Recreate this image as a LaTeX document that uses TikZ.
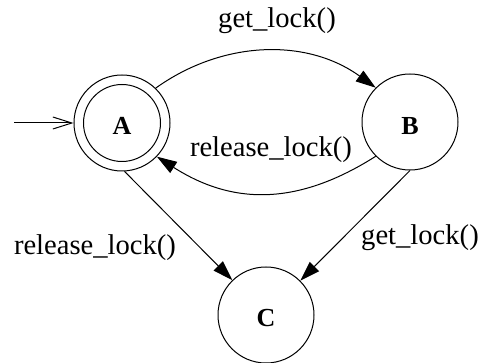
\documentclass[tikz,border=0pt]{standalone}
\usepackage{fontspec}
\setmainfont{Liberation Serif}
\usetikzlibrary{arrows.meta}
\begin{document}
\begin{tikzpicture}[x=1pt,y=-1pt,
  state/.style={circle,draw,line width=1pt,minimum size=96pt,inner sep=0pt},
  statename/.style={font=\fontsize{26}{26}\selectfont\bfseries,anchor=base,inner sep=0pt},
  edgelabel/.style={font=\fontsize{28.6}{28.6}\selectfont,anchor=base,inner sep=0pt},
  trans/.style={line width=1pt,-{Triangle[length=20pt,width=13pt]}},
  initarrow/.style={line width=1pt,-{Straight Barb[length=19pt,width=12pt,line width=1pt]}}]
  \useasboundingbox (0,0) rectangle (480,363);

  % states
  \node[state] (A) at (122,123) {};
  \draw[line width=1pt] (A.center) circle (38.5pt);
  \node[state] (B) at (410,122) {};
  \node[state] (C) at (266,315) {};
  \node[statename] (An) at (122,135) {A};
  \node[statename] (Bn) at (410,135) {B};
  \node[statename] (Cn) at (266,327) {C};

  % initial marker
  \coordinate (start) at (14,123);
  \draw[initarrow] (start) -- (A.west);

  % transitions
  \draw[trans] (A.46) .. controls (223,40) and (307,38) .. (B.135);
  \draw[trans] (B.225) .. controls (299,205) and (234,206) .. (A.-44);
  \draw[trans] (A.-87) -- (C.134);
  \draw[trans] (B.-90) -- (C.45);

  % labels
  \node[edgelabel] (l1) at (277,28) {get\_lock()};
  \node[edgelabel] (l2) at (271,157) {release\_lock()};
  \node[edgelabel] (l3) at (95,255) {release\_lock()};
  \node[edgelabel] (l4) at (420,245) {get\_lock()};
\end{tikzpicture}
\end{document}
